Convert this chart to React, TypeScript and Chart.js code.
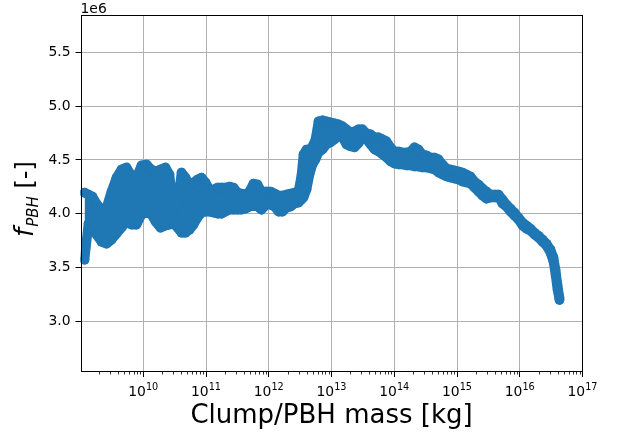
import React, { useEffect, useRef } from 'react';
import { Chart, registerables } from 'chart.js';

Chart.register(...registerables);

// Clump / PBH mass [kg] sampled along the scatter band
const massKg = [
  1.16e9, 1.34e9, 1.55e9, 1.80e9, 2.16e9, 2.60e9, 3.12e9, 3.75e9, 4.50e9, 5.41e9,
  6.50e9, 7.80e9, 9.38e9, 1.13e10, 1.35e10, 1.57e10, 1.88e10, 2.26e10, 2.62e10, 3.03e10,
  3.51e10, 4.07e10, 4.71e10, 5.46e10, 6.32e10, 7.32e10, 8.48e10, 9.82e10, 1.14e11, 1.32e11,
  1.53e11, 1.77e11, 2.05e11, 2.37e11, 2.74e11, 3.18e11, 3.68e11, 4.26e11, 4.93e11, 5.71e11,
  6.62e11, 7.66e11, 9.21e11, 1.07e12, 1.24e12, 1.43e12, 1.66e12, 1.92e12, 2.22e12, 2.57e12,
  2.98e12, 3.33e12, 3.58e12, 4.00e12, 4.46e12, 4.98e12, 5.56e12, 6.21e12, 7.19e12, 8.32e12,
  9.64e12, 1.12e13, 1.29e13, 1.50e13, 1.73e13, 2.01e13, 2.33e13, 2.69e13, 3.12e13, 3.61e13,
  4.19e13, 4.84e13, 5.61e13, 6.50e13, 7.52e13, 8.71e13, 1.01e14, 1.17e14, 1.35e14, 1.57e14,
  1.82e14, 2.10e14, 2.43e14, 2.82e14, 3.27e14, 3.78e14, 4.38e14, 5.07e14, 5.87e14, 6.80e14,
  7.87e14, 9.12e14, 1.06e15, 1.22e15, 1.42e15, 1.64e15, 1.90e15, 2.20e15, 2.55e15, 2.95e15,
  3.42e15, 3.96e15, 4.59e15, 5.31e15, 6.15e15, 7.13e15, 8.25e15, 9.55e15, 1.11e16, 1.28e16,
  1.48e16, 1.72e16, 1.99e16, 2.31e16, 2.67e16, 3.09e16, 3.45e16, 3.72e16, 4.00e16, 4.30e16,
];

// upper edge of the point cloud (marker centres)
const fUpper = [
  4.196e6, 4.178e6, 4.159e6, 4.093e6, 4.037e6, 4.056e6, 4.206e6, 4.336e6, 4.411e6, 4.430e6,
  4.355e6, 4.336e6, 4.449e6, 4.458e6, 4.411e6, 4.393e6, 4.411e6, 4.430e6, 4.364e6, 4.019e6,
  4.084e6, 4.383e6, 4.336e6, 4.271e6, 4.290e6, 4.318e6, 4.336e6, 4.290e6, 4.224e6, 4.224e6,
  4.243e6, 4.243e6, 4.243e6, 4.252e6, 4.243e6, 4.196e6, 4.187e6, 4.178e6, 4.206e6, 4.280e6,
  4.271e6, 4.206e6, 4.206e6, 4.206e6, 4.187e6, 4.168e6, 4.168e6, 4.178e6, 4.187e6, 4.196e6,
  4.206e6, 4.364e6, 4.551e6, 4.598e6, 4.598e6, 4.626e6, 4.692e6, 4.860e6, 4.869e6, 4.860e6,
  4.850e6, 4.841e6, 4.832e6, 4.813e6, 4.785e6, 4.757e6, 4.766e6, 4.785e6, 4.785e6, 4.748e6,
  4.738e6, 4.710e6, 4.710e6, 4.692e6, 4.673e6, 4.617e6, 4.579e6, 4.579e6, 4.570e6, 4.570e6,
  4.579e6, 4.617e6, 4.598e6, 4.551e6, 4.542e6, 4.523e6, 4.523e6, 4.505e6, 4.458e6, 4.421e6,
  4.411e6, 4.402e6, 4.393e6, 4.383e6, 4.364e6, 4.346e6, 4.299e6, 4.271e6, 4.234e6, 4.206e6,
  4.178e6, 4.178e6, 4.178e6, 4.131e6, 4.084e6, 4.047e6, 4.009e6, 3.963e6, 3.916e6, 3.888e6,
  3.860e6, 3.822e6, 3.794e6, 3.757e6, 3.720e6, 3.664e6, 3.589e6, 3.477e6, 3.336e6, 3.215e6,
];

// lower edge of the point cloud (marker centres)
const fLower = [
  3.570e6, 3.907e6, 3.888e6, 3.804e6, 3.738e6, 3.720e6, 3.757e6, 3.813e6, 3.869e6, 3.925e6,
  3.897e6, 3.897e6, 3.991e6, 4.009e6, 3.991e6, 3.925e6, 3.869e6, 3.888e6, 3.897e6, 3.907e6,
  3.869e6, 3.822e6, 3.822e6, 3.850e6, 3.897e6, 3.963e6, 4.009e6, 4.019e6, 4.019e6, 4.009e6,
  4.000e6, 4.000e6, 4.019e6, 4.037e6, 4.037e6, 4.037e6, 4.037e6, 4.047e6, 4.065e6, 4.075e6,
  4.065e6, 4.037e6, 4.084e6, 4.084e6, 4.065e6, 4.019e6, 4.019e6, 4.056e6, 4.065e6, 4.093e6,
  4.103e6, 4.131e6, 4.150e6, 4.224e6, 4.364e6, 4.458e6, 4.505e6, 4.570e6, 4.598e6, 4.645e6,
  4.664e6, 4.692e6, 4.720e6, 4.710e6, 4.645e6, 4.626e6, 4.617e6, 4.654e6, 4.710e6, 4.692e6,
  4.645e6, 4.598e6, 4.579e6, 4.551e6, 4.523e6, 4.486e6, 4.467e6, 4.458e6, 4.458e6, 4.449e6,
  4.449e6, 4.439e6, 4.439e6, 4.430e6, 4.430e6, 4.421e6, 4.411e6, 4.383e6, 4.364e6, 4.346e6,
  4.336e6, 4.327e6, 4.318e6, 4.299e6, 4.290e6, 4.280e6, 4.243e6, 4.206e6, 4.168e6, 4.140e6,
  4.150e6, 4.150e6, 4.159e6, 4.093e6, 4.065e6, 4.019e6, 3.981e6, 3.944e6, 3.888e6, 3.860e6,
  3.841e6, 3.804e6, 3.776e6, 3.738e6, 3.701e6, 3.636e6, 3.551e6, 3.430e6, 3.290e6, 3.196e6,
];

const yTickValues = [3.0e6, 3.5e6, 4.0e6, 4.5e6, 5.0e6, 5.5e6];
const xDecadeExponents = [10, 11, 12, 13, 14, 15, 16, 17];
const minorMultipliers = [2, 3, 4, 5, 6, 7, 8, 9];

const X_MIN = 1e9;
const X_MAX = 1e17;
const Y_MIN = 2.525e6;
const Y_MAX = 5.85e6;

const BLUE = '#1f77b4';
const FONT = 'DejaVu Sans';

const decorPlugin = {
  id: 'decor',
  afterDraw(chart: any) {
    const { ctx, chartArea: a, scales } = chart;
    const xs = scales.x;
    ctx.save();
    // spines
    ctx.strokeStyle = '#000';
    ctx.lineWidth = 1;
    const L = Math.round(a.left) + 0.5;
    const R = Math.round(a.right) - 0.5;
    const T = Math.round(a.top) + 0.5;
    const B = Math.round(a.bottom) - 0.5;
    ctx.strokeRect(L, T, R - L, B - T);

    // minor ticks on x axis
    ctx.lineWidth = 0.8;
    for (let e = 9; e < 17; e++) {
      for (const k of minorMultipliers) {
        const v = k * Math.pow(10, e);
        if (v <= X_MIN || v >= X_MAX) continue;
        const px = Math.round(xs.getPixelForValue(v)) + 0.5;
        ctx.beginPath();
        ctx.moveTo(px, B);
        ctx.lineTo(px, B + 3);
        ctx.stroke();
      }
    }

    // x tick labels 10^n
    ctx.fillStyle = '#000';
    ctx.textBaseline = 'alphabetic';
    ctx.textAlign = 'left';
    const baseFont = `13.9px "${FONT}"`;
    const supFont = `9.7px "${FONT}"`;
    for (const e of xDecadeExponents) {
      const px = xs.getPixelForValue(Math.pow(10, e));
      ctx.font = baseFont;
      const wb = ctx.measureText('10').width;
      ctx.font = supFont;
      const ws = ctx.measureText(String(e)).width;
      const start = px - (wb + ws) / 2;
      ctx.font = baseFont;
      ctx.fillText('10', start, 395.5);
      ctx.font = supFont;
      ctx.fillText(String(e), start + wb, 389.5);
    }

    // offset label
    ctx.font = baseFont;
    ctx.fillText('1e6', a.left, 12.5);

    // x title
    ctx.font = `26px "${FONT}"`;
    ctx.textAlign = 'center';
    ctx.fillText('Clump/PBH mass [kg]', (a.left + a.right) / 2, 423);

    // y title: f_PBH [-]
    ctx.translate(33, 237);
    ctx.rotate(-Math.PI / 2);
    ctx.textAlign = 'left';
    ctx.font = `italic 26px "${FONT}"`;
    ctx.fillText('f', 0, 0);
    let xpos = ctx.measureText('f').width + 1;
    ctx.font = `italic 15px "${FONT}"`;
    ctx.fillText('PBH', xpos, 5);
    xpos += ctx.measureText('PBH').width;
    ctx.font = `24px "${FONT}"`;
    ctx.fillText(' [-]', xpos, 0);
    ctx.restore();
  },
};

export default function App() {
  const ref = useRef<HTMLCanvasElement | null>(null);

  useEffect(() => {
    if (!ref.current) return;
    const upper = massKg.map((m, i) => ({ x: m, y: fUpper[i] }));
    const lower = massKg.map((m, i) => ({ x: m, y: fLower[i] }));
    const common = {
      showLine: true,
      borderColor: BLUE,
      backgroundColor: BLUE,
      pointBackgroundColor: BLUE,
      pointBorderWidth: 0,
      pointRadius: 4.8,
      pointHoverRadius: 4.8,
      borderWidth: 9.6,
      borderJoinStyle: 'round',
      borderCapStyle: 'round',
      tension: 0,
    };
    const chart = new Chart(ref.current, {
      type: 'scatter',
      data: {
        datasets: [
          { ...common, data: upper, fill: '+1' },
          { ...common, data: lower, fill: false },
        ],
      } as any,
      options: {
        responsive: false,
        animation: false,
        events: [],
        layout: { padding: { top: 15, right: 35.5, left: 0, bottom: 0 } },
        plugins: {
          legend: { display: false },
          tooltip: { enabled: false },
          title: { display: false },
        },
        scales: {
          x: {
            type: 'logarithmic',
            min: X_MIN,
            max: X_MAX,
            z: 1,
            afterBuildTicks: (s: any) => {
              s.ticks = xDecadeExponents.map((e) => ({ value: Math.pow(10, e), major: true }));
            },
            afterFit: (s: any) => {
              s.height = 62;
            },
            ticks: { display: false },
            grid: {
              color: '#b0b0b0',
              lineWidth: 1,
              drawTicks: true,
              tickLength: 5,
              tickColor: '#000',
              tickWidth: 1,
            },
            border: { display: false },
          },
          y: {
            min: Y_MIN,
            max: Y_MAX,
            z: 1,
            afterBuildTicks: (s: any) => {
              s.ticks = yTickValues.map((v) => ({ value: v }));
            },
            afterFit: (s: any) => {
              s.width = 80.5;
            },
            ticks: {
              callback: (v: any) => (Number(v) / 1e6).toFixed(1),
              color: '#000',
              font: { family: FONT, size: 13.9 },
              padding: 5,
            },
            grid: {
              color: '#b0b0b0',
              lineWidth: 1,
              drawTicks: true,
              tickLength: 5,
              tickColor: '#000',
              tickWidth: 1,
            },
            border: { display: false },
          },
        },
      } as any,
      plugins: [decorPlugin],
    });
    return () => chart.destroy();
  }, []);

  return (
    <div style={{ position: 'absolute', left: 0, top: 0, width: 618, height: 434, background: '#fff' }}>
      <canvas ref={ref} width={618} height={434} style={{ display: 'block' }} />
    </div>
  );
}
